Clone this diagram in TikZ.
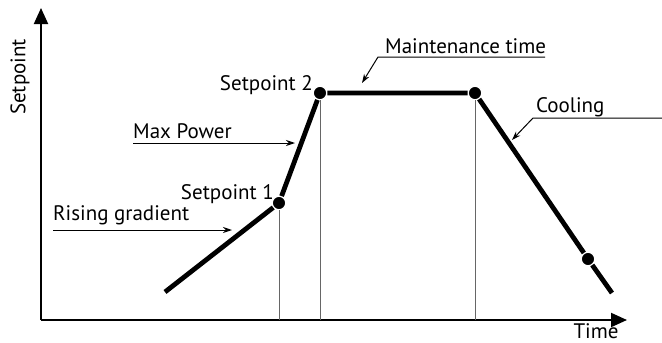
\documentclass[tikz,border=0pt]{standalone}
\usepackage{fontspec}
\setmainfont{PT Sans}
\usetikzlibrary{arrows.meta}
\begin{document}
\begin{tikzpicture}[x=1pt,y=-1pt,
  lbl/.style={font=\fontsize{21}{22}\selectfont, inner sep=0pt},
  dot/.style={circle, fill=black, draw=white, line width=1.2pt, minimum size=13.5pt, inner sep=0pt},
  prof/.style={line width=4.8pt},
  guide/.style={draw=black!60, line width=0.8pt},
  axis/.style={line width=2pt, -{Triangle[width=14pt,length=16pt]}},
  pointer/.style={line width=1pt, -{Stealth[width=6pt,length=9pt]}}
]
\useasboundingbox (0,0) rectangle (662,343);
% axes
\coordinate (O) at (41,320);
\coordinate (ytip) at (41,8);
\coordinate (xtip) at (627,320);
\draw[axis] (O) -- (ytip);
\draw[axis] (O) -- (xtip);
\node[lbl, rotate=90] (ly) at (20,77) {Setpoint};
\node[lbl, anchor=base] (lt) at (596,338) {Time};
% profile points
\coordinate (A) at (165,292);
\node[dot] (s1) at (279,203) {};
\node[dot] (s2) at (320,93) {};
\node[dot] (m) at (475,93) {};
\node[dot] (c) at (588,259) {};
\coordinate (E) at (612,293);
\draw[prof] (A) -- (s1) -- (s2) -- (m) -- (c) -- (E);
% guides
\draw[guide] (s1) -- (s1 |- O);
\draw[guide] (s2) -- (s2 |- O);
\draw[guide] (m) -- (m |- O);
% labels
\node[lbl, anchor=base east] (l1) at (274,199.5) {Setpoint 1};
\node[lbl, anchor=base east] (l2) at (313,90.5) {Setpoint 2};
\node[lbl, anchor=base west] (lmax) at (133,138) {Max Power};
\node[lbl, anchor=base west] (lrise) at (53,220) {Rising gradient};
\node[lbl, anchor=base west] (lmaint) at (385,53) {Maintenance time};
\node[lbl, anchor=base west] (lcool) at (536,112) {Cooling};
% pointers
\coordinate (pmax0) at (133,143);
\coordinate (pmax) at (295,143);
\draw[pointer] (pmax0) -- (pmax);
\coordinate (prise0) at (53,230);
\coordinate (prise) at (232,230);
\draw[pointer] (prise0) -- (prise);
\coordinate (pm0) at (545,57);
\coordinate (pm1) at (378,57);
\coordinate (pm) at (362,83);
\draw[pointer] (pm0) -- (pm1) -- (pm);
\coordinate (pc0) at (662,118);
\coordinate (pc1) at (533,118);
\coordinate (pc) at (512,140);
\draw[pointer] (pc0) -- (pc1) -- (pc);
\end{tikzpicture}
\end{document}
